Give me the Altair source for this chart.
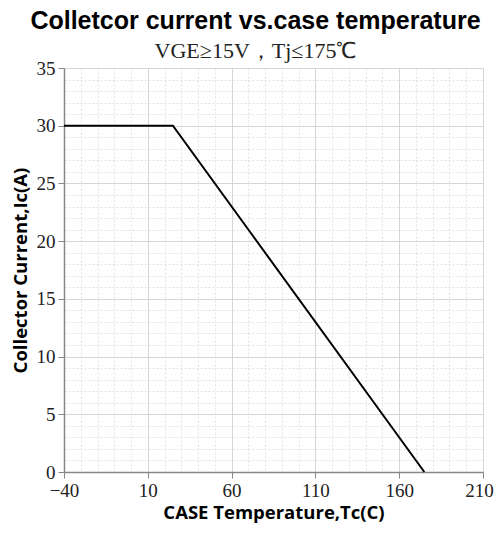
import altair as alt
import pandas as pd

temps = [-40, 25, 175]
currents = [30, 30, 0]

x_grid = list(range(-40, 211, 10))
y_grid = list(range(0, 36, 1))

df = pd.DataFrame({"Tc": temps, "Ic": currents})

x_major = "(datum.value + 40) % 50 == 0"
y_major = "datum.value % 5 == 0"

def make_axis(values, major, title, label_pad, title_pad, extra=None):
    kw = dict(
        values=values,
        labelExpr=f"{major} ? datum.label : ''",
        title=title,
        titleFont="Open Sans", titleFontWeight="bold", titleFontSize=18.5, titleColor="black",
        labelFont="Liberation Serif", labelFontSize=19, labelColor="#222",
        labelPadding=label_pad, titlePadding=title_pad,
        domainColor="#888", domainWidth=1.5, tickColor="#888", tickSize=6,
        tickOpacity={"condition": {"test": major, "value": 1}, "value": 0},
        gridColor={"condition": {"test": major, "value": "#d6d6d6"}, "value": "#e2e2e2"},
        gridDash={"condition": {"test": major, "value": []}, "value": [2, 2]},
        labelFlush=False, labelOverlap=False,
    )
    if extra:
        kw.update(extra)
    return alt.Axis(**kw)

chart = alt.Chart(df).mark_line(color="black", strokeWidth=2).encode(
    x=alt.X("Tc:Q", scale=alt.Scale(domain=[-40, 210], nice=False, zero=False),
            axis=make_axis(x_grid, x_major, "CASE Temperature,Tc(C)", 3, 3,
                           {"labelOffset": {"condition": {"test": "datum.value == 210", "value": -4}, "value": 0}})),
    y=alt.Y("Ic:Q", scale=alt.Scale(domain=[0, 35], nice=False),
            axis=make_axis(y_grid, y_major, "Collector Current,Ic(A)", 3, 6)),
).properties(
    width=419, height=404,
    title=alt.TitleParams(
        text="Colletcor current vs.case temperature",
        subtitle="VGE≥15V，Tj≤175℃",
        font="Liberation Sans", fontSize=25, fontWeight="bold", color="black",
        subtitleFont="Liberation Serif", subtitleFontSize=22, subtitleColor="#222",
        subtitlePadding=7, anchor="middle", dx=-18, offset=-3,
    ),
    autosize=alt.AutoSizeParams(type="none"),
    padding={"left": 56, "top": 60, "right": 11, "bottom": 54},
).configure_view(stroke=None).configure(background="white")

chart.save("out.html", embed_options={"renderer": "svg", "actions": False})
